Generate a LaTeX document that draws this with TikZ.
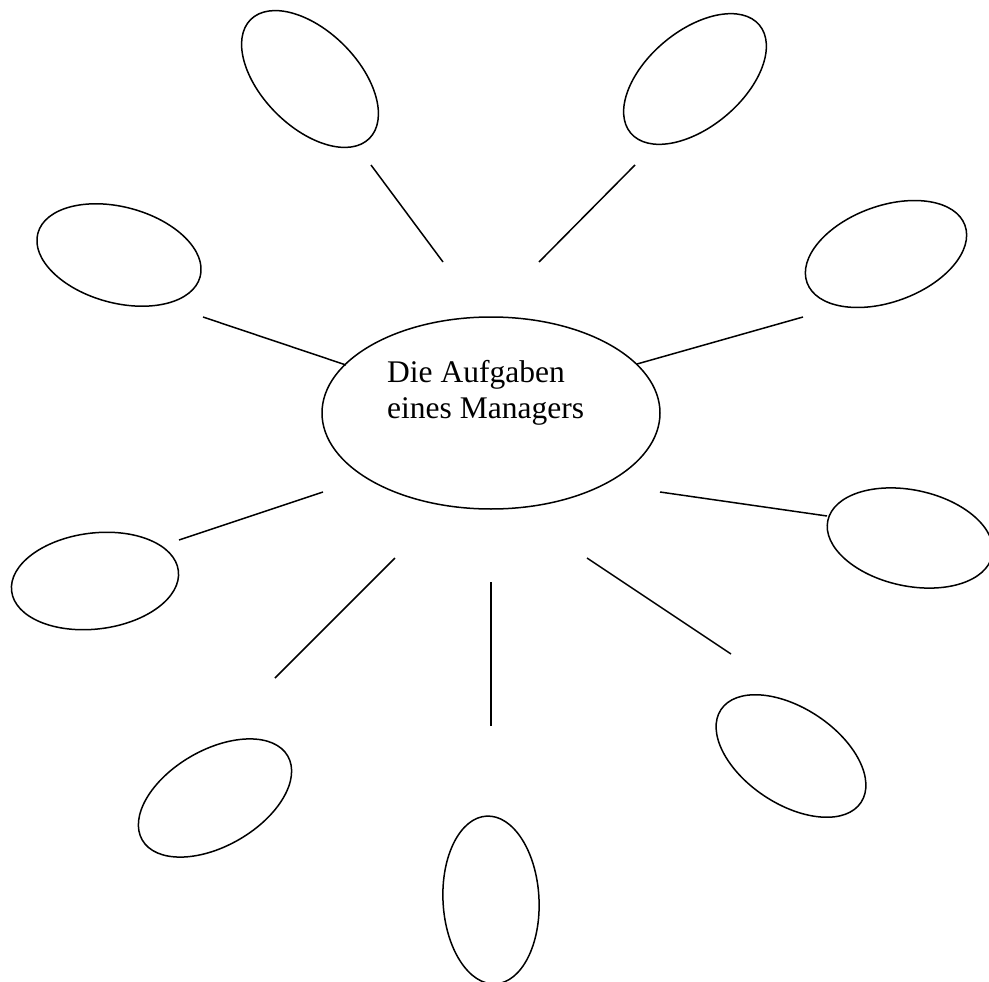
\documentclass[tikz,border=0pt]{standalone}
\usepackage{fontspec}
\setmainfont{Liberation Serif}
\usetikzlibrary{shapes.geometric}
\begin{document}
\begin{tikzpicture}[x=1pt,y=-1pt,
  bubble/.style={draw, ellipse, line width=1.5pt, inner sep=0pt,
    minimum width=168pt, minimum height=96pt},
  hub/.style={draw, ellipse, line width=1.5pt, inner sep=0pt,
    minimum width=338pt, minimum height=192pt},
  spoke/.style={line width=1.5pt},
  label/.style={anchor=base west, inner sep=0pt,
    font=\fontsize{31.5}{36}\selectfont}]
\clip (0,0) rectangle (989,982);
\fill[white] (0,0) rectangle (989,982);
% central ellipse and its text
\node[hub] (hub) at (491,413) {};
\node[label] (t1) at (387,382) {Die Aufgaben};
\node[label] (t2) at (387,418) {eines Managers};
% outer ellipses
\node[bubble, rotate=-45] (e1) at (310,79) {};
\node[bubble, rotate=40] (e2) at (695,79) {};
\node[bubble, rotate=-15] (e3) at (119,255) {};
\node[bubble, rotate=20] (e4) at (886,254) {};
\node[bubble, rotate=7] (e5) at (95,581) {};
\node[bubble, rotate=-12] (e6) at (910,538) {};
\node[bubble, rotate=30] (e7) at (215,798) {};
\node[bubble, rotate=93] (e8) at (491,900) {};
\node[bubble, rotate=-33.5] (e9) at (791,756) {};
% spoke end points
\coordinate (a1) at (371,165); \coordinate (b1) at (443,262);
\coordinate (a2) at (635,165); \coordinate (b2) at (539,262);
\coordinate (a3) at (203,317); \coordinate (b3) at (346,365);
\coordinate (a4) at (803,317); \coordinate (b4) at (637,364);
\coordinate (a5) at (179,540); \coordinate (b5) at (323,492);
\coordinate (a6) at (827,516); \coordinate (b6) at (660,492);
\coordinate (a7) at (275,678); \coordinate (b7) at (395,558);
\coordinate (a8) at (491,726); \coordinate (b8) at (491,582);
\coordinate (a9) at (731,654); \coordinate (b9) at (587,558);
\foreach \i in {1,...,9} {\draw[spoke] (a\i) -- (b\i);}
\end{tikzpicture}
\end{document}
